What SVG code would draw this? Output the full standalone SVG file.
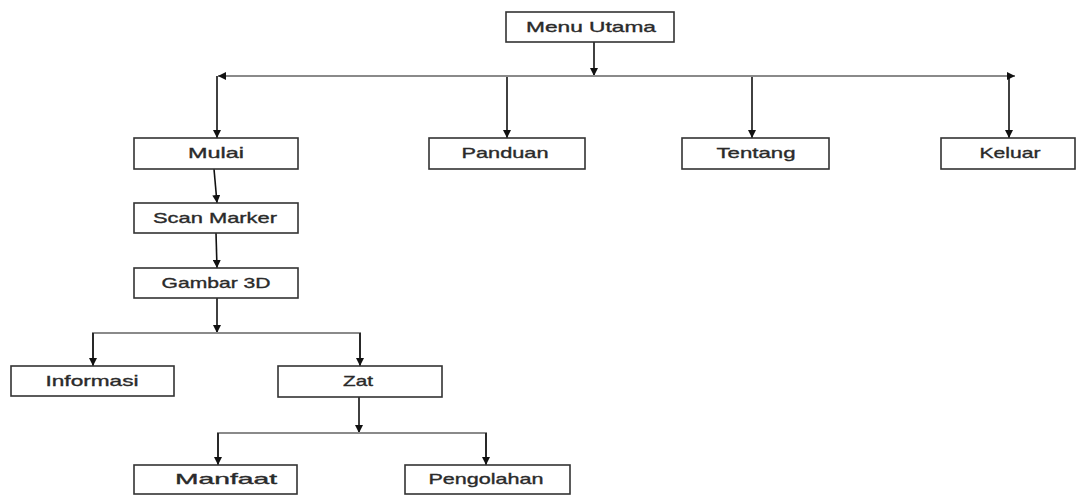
<svg xmlns="http://www.w3.org/2000/svg" width="1080" height="495" viewBox="0 0 1080 495">
<defs>
<marker id="ah" viewBox="0 0 10 10" refX="10" refY="5" markerWidth="8" markerHeight="8" markerUnits="userSpaceOnUse" orient="auto">
<path d="M0,0 L10,5 L0,10 Z" fill="#111"/>
</marker>
<style>
.box{fill:#fff;stroke:#333;stroke-width:1.6}
.t{font-family:"Liberation Sans",Arial,sans-serif;font-size:15px;fill:#2a2a2a;stroke:#2a2a2a;stroke-width:0.35;text-anchor:middle}
.v{stroke:#111;stroke-width:1.6;fill:none}
.h{stroke:#8a8a8a;stroke-width:2;fill:none}
</style>
</defs>
<rect width="1080" height="495" fill="#fff"/>
<g id="connectors">
<line class="v" x1="594" y1="42" x2="594" y2="76" marker-end="url(#ah)"/>
<line class="h" x1="600" y1="76" x2="218" y2="76" marker-end="url(#ah)"/>
<line class="h" x1="590" y1="76" x2="1015" y2="76" marker-end="url(#ah)"/>
<line class="v" x1="217" y1="76" x2="217" y2="138" marker-end="url(#ah)"/>
<line class="v" x1="507" y1="77" x2="507" y2="138" marker-end="url(#ah)"/>
<line class="v" x1="752" y1="77" x2="752" y2="138" marker-end="url(#ah)"/>
<line class="v" x1="1009" y1="77" x2="1009" y2="138" marker-end="url(#ah)"/>
<line class="v" x1="214" y1="169" x2="217" y2="203" marker-end="url(#ah)"/>
<line class="v" x1="216" y1="233" x2="217" y2="268" marker-end="url(#ah)"/>
<line class="v" x1="217" y1="298" x2="217" y2="333" marker-end="url(#ah)"/>
<polyline class="h" points="93,363 93,333 360,333 360,363"/>
<line class="v" x1="93" y1="333" x2="93" y2="366" marker-end="url(#ah)"/>
<line class="v" x1="360" y1="333" x2="360" y2="366" marker-end="url(#ah)"/>
<line class="v" x1="359" y1="397" x2="359" y2="433" marker-end="url(#ah)"/>
<polyline class="h" points="218,462 218,433 486,433 486,462"/>
<line class="v" x1="218" y1="433" x2="218" y2="465" marker-end="url(#ah)"/>
<line class="v" x1="486" y1="433" x2="486" y2="465" marker-end="url(#ah)"/>
</g>
<g id="menu-utama"><rect class="box" x="506" y="12" width="168" height="30"/><text class="t" x="591" y="32" textLength="130" lengthAdjust="spacingAndGlyphs">Menu Utama</text></g>
<g id="mulai"><rect class="box" x="134" y="138" width="164" height="31"/><text class="t" x="216" y="158" textLength="56" lengthAdjust="spacingAndGlyphs">Mulai</text></g>
<g id="panduan"><rect class="box" x="429" y="138" width="156" height="31"/><text class="t" x="505" y="158" textLength="87" lengthAdjust="spacingAndGlyphs">Panduan</text></g>
<g id="tentang"><rect class="box" x="682" y="138" width="147" height="31"/><text class="t" x="756" y="158" textLength="79" lengthAdjust="spacingAndGlyphs">Tentang</text></g>
<g id="keluar"><rect class="box" x="941" y="138" width="134" height="31"/><text class="t" x="1010" y="158" textLength="61" lengthAdjust="spacingAndGlyphs">Keluar</text></g>
<g id="scan-marker"><rect class="box" x="134" y="203" width="164" height="30"/><text class="t" x="215" y="223" textLength="124" lengthAdjust="spacingAndGlyphs">Scan Marker</text></g>
<g id="gambar-3d"><rect class="box" x="134" y="268" width="164" height="30"/><text class="t" x="216" y="288" textLength="109" lengthAdjust="spacingAndGlyphs">Gambar 3D</text></g>
<g id="informasi"><rect class="box" x="11" y="366" width="163" height="30"/><text class="t" x="92" y="386" textLength="93" lengthAdjust="spacingAndGlyphs">Informasi</text></g>
<g id="zat"><rect class="box" x="278" y="366" width="164" height="31"/><text class="t" x="358" y="386" textLength="30" lengthAdjust="spacingAndGlyphs">Zat</text></g>
<g id="manfaat"><rect class="box" x="134" y="465" width="163" height="29"/><text class="t" x="226" y="484" textLength="102" lengthAdjust="spacingAndGlyphs">Manfaat</text></g>
<g id="pengolahan"><rect class="box" x="405" y="465" width="165" height="29"/><text class="t" x="486" y="484" textLength="115" lengthAdjust="spacingAndGlyphs">Pengolahan</text></g>
</svg>
